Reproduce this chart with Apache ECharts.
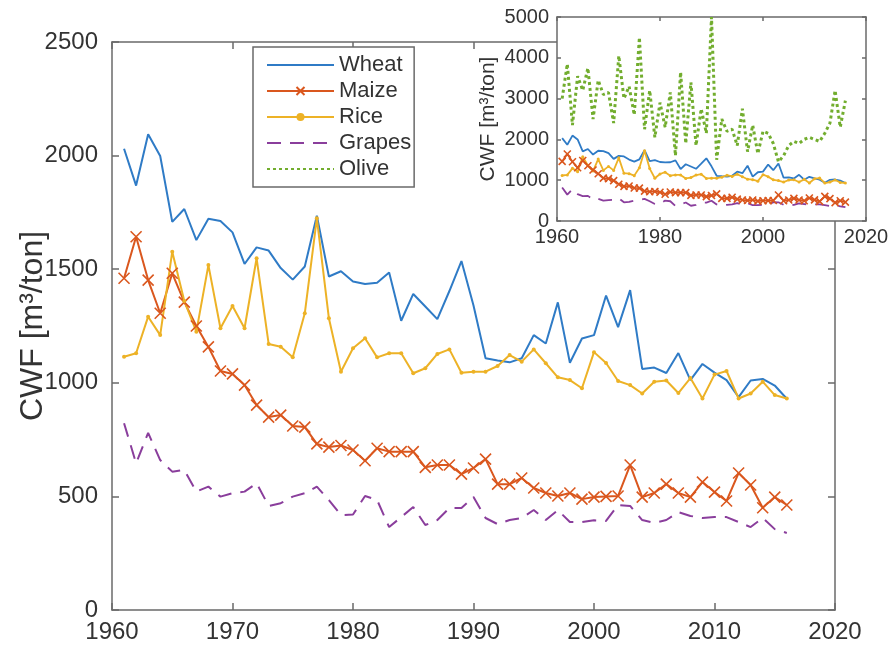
<!DOCTYPE html>
<html><head><meta charset="utf-8">
<script src="https://cdn.jsdelivr.net/npm/echarts@6/dist/echarts.min.js"></script>
<style>html,body{margin:0;padding:0;background:#fff}#c{width:892px;height:650px}</style>
</head><body><div id="c"></div>
<script>
// ---- data ----
const years = [1961,1962,1963,1964,1965,1966,1967,1968,1969,1970,1971,1972,1973,1974,1975,1976,1977,1978,1979,1980,
  1981,1982,1983,1984,1985,1986,1987,1988,1989,1990,1991,1992,1993,1994,1995,1996,1997,1998,1999,2000,
  2001,2002,2003,2004,2005,2006,2007,2008,2009,2010,2011,2012,2013,2014,2015,2016];
const wheat = [2030,1868,2094,1998,1708,1765,1628,1722,1712,1662,1523,1596,1582,1505,1454,1512,1735,1468,1491,1446,
  1435,1440,1485,1273,1391,1336,1280,1404,1536,1340,1108,1098,1090,1108,1210,1173,1354,1088,1195,1210,
  1384,1245,1408,1061,1067,1043,1131,1012,1083,1045,1012,937,1010,1017,988,930];
const maize = [1460,1643,1452,1306,1482,1355,1250,1158,1052,1039,990,902,849,858,810,805,731,717,724,704,
  657,712,697,697,697,628,638,638,598,625,664,554,554,581,537,515,502,515,488,497,
  500,502,638,497,515,554,515,497,563,519,480,603,550,450,497,462];
const rice = [1115,1130,1291,1210,1577,1360,1225,1518,1240,1338,1240,1548,1171,1159,1112,1306,1724,1284,1049,1152,
  1196,1112,1130,1130,1042,1064,1127,1147,1044,1049,1049,1074,1122,1093,1147,1086,1024,1012,976,1135,
  1087,1008,990,953,1005,1010,955,1021,931,1036,1052,931,953,1005,946,931];
const grapes = [822,646,780,660,609,616,521,543,499,514,521,558,458,470,499,514,543,484,418,420,
  502,484,365,409,453,374,396,449,449,497,405,378,396,405,440,396,440,387,387,395,
  392,462,458,396,383,396,431,414,405,409,409,387,365,405,356,339];
const olive = [3000,3850,2350,3550,3200,3750,2500,3450,3100,3150,2400,4050,3000,3300,2600,4500,2250,3200,2050,2900,
  2300,3150,1600,3650,1900,3400,1850,2750,2150,5000,1500,2500,2200,2250,1850,2750,1700,2350,1650,2200,
  2150,1900,1450,1600,1850,1950,1900,2000,2050,2000,1950,2150,2400,3200,2300,2950];
const names = ['Wheat','Maize','Rice','Grapes','Olive'];
const mainXTicks = [1960,1970,1980,1990,2000,2010,2020];
const mainYTicks = [0,500,1000,1500,2000,2500];
const insetXTicks = [1960,1980,2000,2020];
const insetYTicks = [0,1000,2000,3000,4000,5000];
const yLabel = 'CWF [m³/ton]';

// ---- style ----
const C = {Wheat:'#2F7BC6', Maize:'#DA571E', Rice:'#EDB226', Grapes:'#8A3E9C', Olive:'#72AD2E'};
const axisCol = '#6a6a6a', textCol = '#333';
const FONT = 'Liberation Sans, Arial, sans-serif';
const pairs = arr => years.map((y,i)=>[y, arr[i]]);
const xPath = 'path://M0,0L10,10M10,0L0,10';
const plain = v => String(v);

function axes(grid, xt, yt, main){
  const fs = main ? 24 : 20, tl = main ? 7 : 4;
  const common = {gridIndex:grid, type:'value', splitLine:{show:false}, z: main?1:21,
    axisLine:{show:true, onZero:false, lineStyle:{color:axisCol, width:1.5}},
    axisTick:{show:true, inside:true, length:tl, lineStyle:{color:axisCol, width:1.5}}};
  const xr = {min:xt[0], max:xt[xt.length-1], interval:xt[1]-xt[0]};
  const yr = {min:yt[0], max:yt[yt.length-1], interval:yt[1]-yt[0]};
  const x = [
    Object.assign({}, common, xr, {position:'bottom',
      axisLabel:{show:true, color:textCol, fontSize:fs, fontFamily:FONT, margin: main?10:6, formatter:plain}}),
    Object.assign({}, common, xr, {position:'top', axisLabel:{show:false}})
  ];
  const y = [
    Object.assign({}, common, yr, {position:'left',
      axisLabel:{show:true, color:textCol, fontSize:fs, fontFamily:FONT, margin: main?14:8, formatter:plain},
      name:yLabel, nameLocation:'middle', nameRotate:90, nameGap: main?63:58, nameMoveOverlap:false,
      nameTextStyle:{color:textCol, fontSize: main?32:21, fontFamily:FONT}}),
    Object.assign({}, common, yr, {position:'right', axisLabel:{show:false}})
  ];
  return {x, y};
}
const A0 = axes(0, mainXTicks, mainYTicks, true);
const A1 = axes(1, insetXTicks, insetYTicks, false);

function mk(name, data, xi, yi, main){
  const s = {name, type:'line', data:pairs(data), xAxisIndex:xi, yAxisIndex:yi,
    z: main?5:22, showSymbol:false, symbol:'none',
    lineStyle:{color:C[name], width: main?2:1.8}, itemStyle:{color:C[name]}, animation:false};
  if(name==='Maize'){ Object.assign(s,{showSymbol:true, symbol:xPath, symbolSize: main?11:7,
      itemStyle:{color:C[name], borderColor:C[name], borderWidth:1.6}}); }
  if(name==='Rice'){ Object.assign(s,{showSymbol:true, symbol:'circle', symbolSize: main?4:3}); }
  if(name==='Grapes'){ s.lineStyle.type=[14,9]; }
  if(name==='Olive'){ s.lineStyle.type=[3,3]; s.lineStyle.width=3; }
  return s;
}

const series = [
  mk('Wheat', wheat, 0, 0, true), mk('Maize', maize, 0, 0, true), mk('Rice', rice, 0, 0, true),
  mk('Grapes', grapes, 0, 0, true),
  mk('Olive', olive, 2, 2, false), mk('Wheat', wheat, 2, 2, false), mk('Rice', rice, 2, 2, false),
  mk('Maize', maize, 2, 2, false), mk('Grapes', grapes, 2, 2, false)
];

const hide = {opacity:0};
const chart = echarts.init(document.getElementById('c'), null, {renderer:'canvas'});
chart.setOption({
  animation:false, backgroundColor:'#fff',
  textStyle:{fontFamily:FONT},
  grid:[
    {left:112, right:57, top:42, bottom:40, show:false, outerBoundsMode:'none', containLabel:false},
    {left:557, right:26, top:17, bottom:429, show:true, backgroundColor:'#fff', borderWidth:0, z:20,
     outerBoundsMode:'none', containLabel:false}
  ],
  xAxis:[...A0.x, ...A1.x],
  yAxis:[...A0.y, ...A1.y],
  legend:{data:[
      {name:'Wheat', itemStyle:hide},
      {name:'Maize'},
      {name:'Rice'},
      {name:'Grapes', itemStyle:hide},
      {name:'Olive', itemStyle:hide}],
    orient:'vertical', left:253, top:47, itemWidth:67, itemHeight:10, itemGap:4,
    padding:[7,3,7,13], borderColor:axisCol, borderWidth:1.5, backgroundColor:'#fff', z:30,
    textStyle:{fontSize:22, color:textCol, fontFamily:FONT, lineHeight:22}},
  series
});
</script></body></html>
